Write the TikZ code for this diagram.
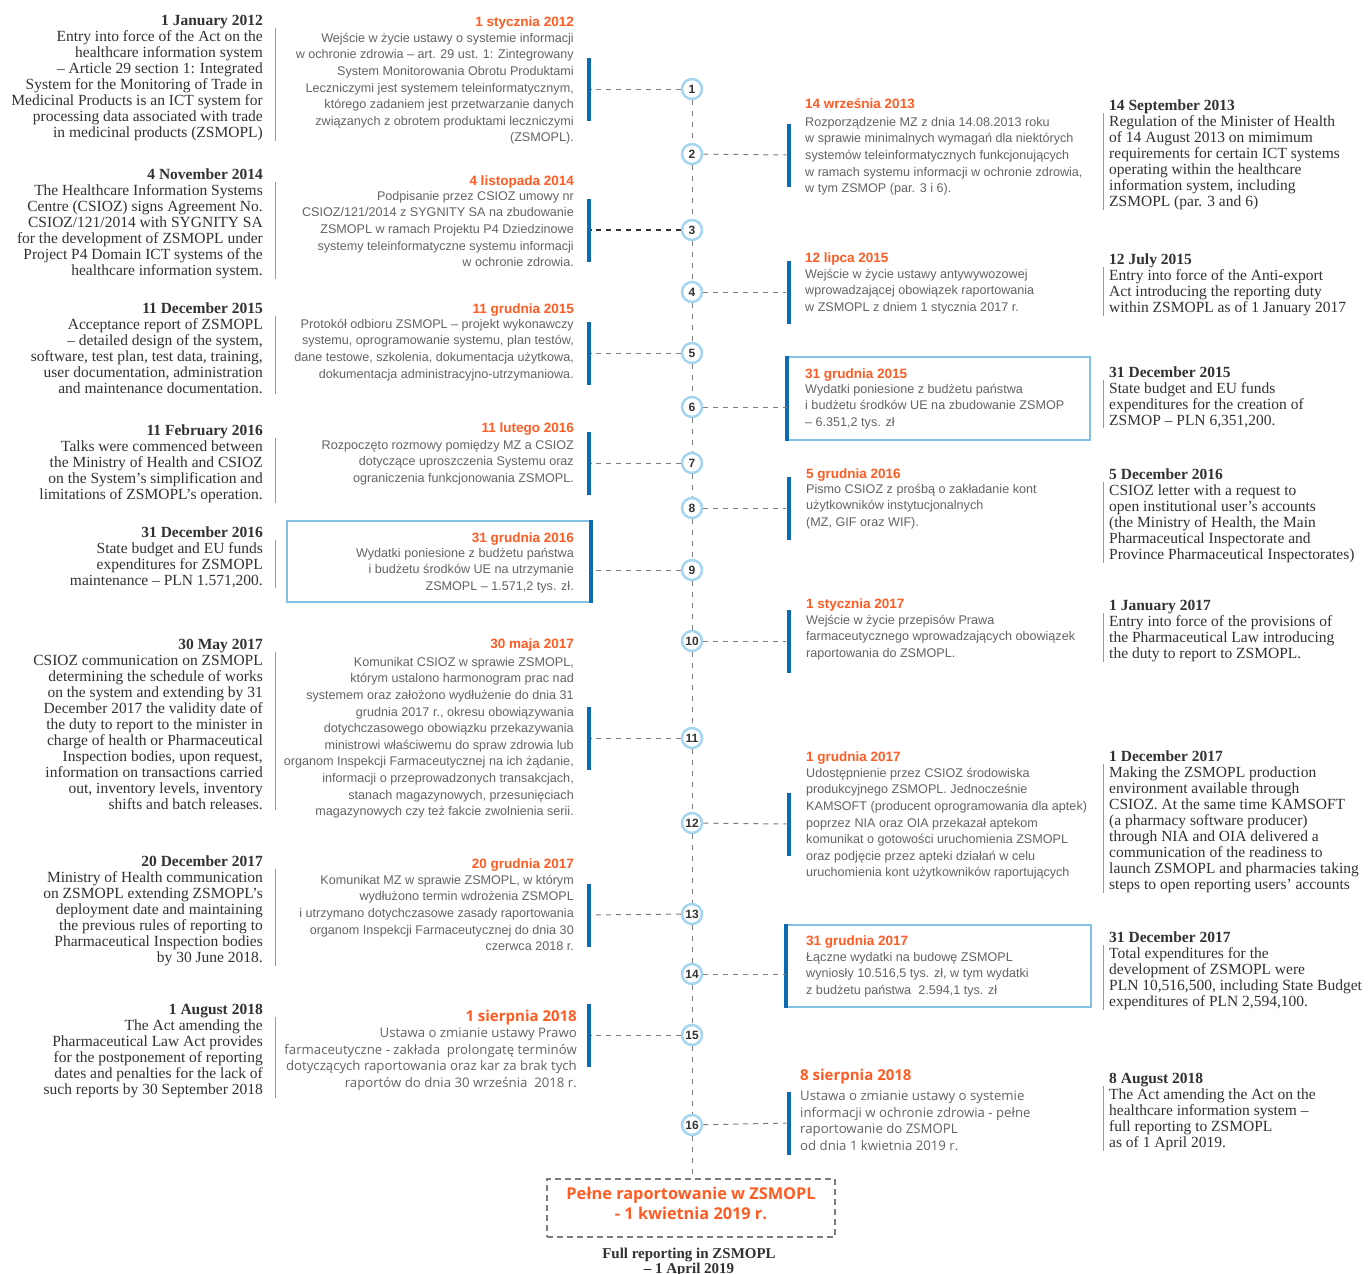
\documentclass[tikz,border=0pt]{standalone}
\usepackage{fontspec}
\setmainfont{Liberation Serif}
\newfontfamily\plsans{Liberation Sans}
\newfontfamily\opsans{Open Sans}
\usetikzlibrary{calc}
\definecolor{dateorange}{RGB}{255,92,36}
\definecolor{barblue}{RGB}{12,108,178}
\definecolor{boxblue}{RGB}{130,192,228}
\definecolor{circblue}{RGB}{165,213,240}
\definecolor{plgray}{RGB}{100,100,100}
\definecolor{engray}{RGB}{50,50,50}
\definecolor{dashgray}{RGB}{125,125,125}
\newcommand\plStrut{\rule{0pt}{12pt}}
\newcommand\enStrut{\rule{0pt}{13pt}}
\tikzset{
  tl/.style={circle, draw=circblue, line width=2.5pt, fill=white, minimum size=20pt, inner sep=0pt,
    font=\plsans\bfseries\fontsize{12}{12}\selectfont, text=black!80},
  blbar/.style={fill=barblue, inner sep=0pt, minimum width=4pt, minimum height=63pt},
  conn/.style={draw=dashgray, dash pattern=on 5pt off 5pt, line width=1pt},
  spine/.style={draw=dashgray, dash pattern=on 5pt off 6pt, line width=0.9pt},
  pldate/.style={font=\plsans\bfseries\fontsize{13.5}{16}\selectfont, text=dateorange, inner sep=0pt},
  plbody/.style={font=\plsans\fontsize{12.6}{16.6}\selectfont, text=plgray, inner sep=0pt},
  plR/.style={plbody, align=right, anchor=north east},
  plL/.style={plbody, align=left, anchor=north west},
  opdate/.style={font=\opsans\bfseries\fontsize{15}{16}\selectfont, text=dateorange, inner sep=0pt},
  opbody/.style={font=\opsans\fontsize{13.2}{16.8}\selectfont, text=plgray, inner sep=0pt},
  entxt/.style={font=\fontsize{15.5}{16}\selectfont, text=engray, inner sep=0pt},
  enL/.style={entxt, align=right, anchor=north east},
  enR/.style={entxt, align=left, anchor=north west},
  engbar/.style={draw=black!40, line width=1pt},
  infobox/.style={draw=boxblue, line width=1.3pt, fill=white, inner sep=0pt},
  finbox/.style={draw=dashgray, dash pattern=on 6pt off 4pt, line width=1.2pt, inner sep=0pt, minimum width=288pt, minimum height=58pt}
}
\begin{document}
\begin{tikzpicture}[x=1pt,y=-1pt]
\path[use as bounding box, fill=white] (0,0) rectangle (1368,1274);

% boxes (drawn first)
\node[infobox, minimum width=302pt, minimum height=83pt] (bx6) at (939,398.5) {};
\draw[barblue, line width=4pt] (bx6.north west) -- (bx6.south west);
\node[infobox, minimum width=303pt, minimum height=81pt] (bx9) at (438.5,561.5) {};
\draw[barblue, line width=4pt] (bx9.north east) -- (bx9.south east);
\node[infobox, minimum width=304pt, minimum height=82pt] (bx14) at (939,966) {};
\draw[barblue, line width=4pt] (bx14.north west) -- (bx14.south west);

% timeline circles
\foreach \n/\y in {1/89,2/154,3/230,4/292,5/353,6/407,7/463,8/508,9/570,10/641,11/738,12/823,13/914,14/974,15/1035,16/1125}
  \node[tl] (c\n) at (692,\y) {\n};

% final box
\node[finbox] (fin) at (691,1208) {};
\node[font=\opsans\bfseries\fontsize{16.3}{20}\selectfont, text=dateorange, align=center, inner sep=0pt] (fintxt) at (691,1203) {Pełne raportowanie w ZSMOPL\\- 1 kwietnia 2019 r.};
\node[font=\bfseries\fontsize{15}{15}\selectfont, text=engray, align=center, inner sep=0pt, anchor=north] (fineng) at (689,1245) {\enStrut Full reporting in ZSMOPL\\– 1 April 2019};

% spine
\foreach \a/\b in {1/2,2/3,3/4,4/5,5/6,6/7,7/8,8/9,9/10,10/11,11/12,12/13,13/14,14/15,15/16}
  \draw[spine] (c\a) -- (c\b);
\draw[spine] (c16) -- (c16 |- fin.north);

% bars
\foreach \n/\y in {1/89,3/230,5/353,7/463,11/738,13/915,15/1035}
  \node[blbar] (b\n) at (588.5,\y) {};
\foreach \n/\y in {2/155,4/292,8/508,10/641,12/824,16/1123}
  \node[blbar] (b\n) at (788.5,\y) {};

% connectors
\foreach \n in {1,5,7,11,13,15,2,4,8,10,12,16}
  \draw[conn] (c\n) -- (b\n);
\draw[conn, draw=black!80, line width=1.3pt] (c3) -- (b3);
\draw[conn] (c6) -- (c6 -| bx6.west);
\draw[conn] (c9) -- (c9 -| bx9.east);
\draw[conn] (c14) -- (c14 -| bx14.west);

% ---------- Polish texts, left side ----------
\node[pldate, anchor=base east] (t1) at (574,27) {1 stycznia 2012};
\node[plR] (p1) at (574,30) {\plStrut Wejście w życie ustawy o systemie informacji\\w ochronie zdrowia – art. 29 ust. 1: Zintegrowany\\System Monitorowania Obrotu Produktami\\Leczniczymi jest systemem teleinformatycznym,\\którego zadaniem jest przetwarzanie danych\\związanych z obrotem produktami leczniczymi\\(ZSMOPL).};

\node[pldate, anchor=base east] (t3) at (574,185) {4 listopada 2014};
\node[plR] (p3) at (574,188) {\plStrut Podpisanie przez CSIOZ umowy nr\\CSIOZ/121/2014 z SYGNITY SA na zbudowanie\\ZSMOPL w ramach Projektu P4 Dziedzinowe\\systemy teleinformatyczne systemu informacji\\w ochronie zdrowia.};

\node[pldate, anchor=base east] (t5) at (574,313) {11 grudnia 2015};
\node[plR] (p5) at (574,316) {\plStrut Protokół odbioru ZSMOPL – projekt wykonawczy\\systemu, oprogramowanie systemu, plan testów,\\dane testowe, szkolenia, dokumentacja użytkowa,\\dokumentacja administracyjno-utrzymaniowa.};

\node[pldate, anchor=base east] (t7) at (574,432) {11 lutego 2016};
\node[plR] (p7) at (574,437) {\plStrut Rozpoczęto rozmowy pomiędzy MZ a CSIOZ\\dotyczące uproszczenia Systemu oraz\\ograniczenia funkcjonowania ZSMOPL.};

\node[pldate, anchor=base east] (t9) at (574,542) {31 grudnia 2016};
\node[plR] (p9) at (574,545) {\plStrut Wydatki poniesione z budżetu państwa\\i budżetu środków UE na utrzymanie\\ZSMOPL – 1.571,2 tys. zł.};

\node[pldate, anchor=base east] (t11) at (574,648) {30 maja 2017};
\node[plR] (p11) at (574,654) {\plStrut Komunikat CSIOZ w sprawie ZSMOPL,\\którym ustalono harmonogram prac nad\\systemem oraz założono wydłużenie do dnia 31\\grudnia 2017 r., okresu obowiązywania\\dotychczasowego obowiązku przekazywania\\ministrowi właściwemu do spraw zdrowia lub\\organom Inspekcji Farmaceutycznej na ich żądanie,\\informacji o przeprowadzonych transakcjach,\\stanach magazynowych, przesunięciach\\magazynowych czy też fakcie zwolnienia serii.};

\node[pldate, anchor=base east] (t13) at (574,868) {20 grudnia 2017};
\node[plR] (p13) at (574,872) {\plStrut Komunikat MZ w sprawie ZSMOPL, w którym\\wydłużono termin wdrożenia ZSMOPL\\i utrzymano dotychczasowe zasady raportowania\\organom Inspekcji Farmaceutycznej do dnia 30\\czerwca 2018 r.};

\node[opdate, anchor=base east] (t15) at (577,1021) {1 sierpnia 2018};
\node[opbody, align=right, anchor=north east] (p15) at (577,1025) {\plStrut Ustawa o zmianie ustawy Prawo\\farmaceutyczne - zakłada \ prolongatę terminów\\dotyczących raportowania oraz kar za brak tych\\raportów do dnia 30 września \ 2018 r.};

% ---------- Polish texts, right side ----------
\node[pldate, anchor=base west] (t2) at (805,108) {14 września 2013};
\node[plL] (p2) at (805,114) {\plStrut Rozporządzenie MZ z dnia 14.08.2013 roku\\w sprawie minimalnych wymagań dla niektórych\\systemów teleinformatycznych funkcjonujących\\w ramach systemu informacji w ochronie zdrowia,\\w tym ZSMOP (par. 3 i 6).};

\node[pldate, anchor=base west] (t4) at (805,262) {12 lipca 2015};
\node[plL] (p4) at (805,266) {\plStrut Wejście w życie ustawy antywywozowej\\wprowadzającej obowiązek raportowania\\w ZSMOPL z dniem 1 stycznia 2017 r.};

\node[pldate, anchor=base west] (t6) at (805,378) {31 grudnia 2015};
\node[plL] (p6) at (805,381) {\plStrut Wydatki poniesione z budżetu państwa\\i budżetu środków UE na zbudowanie ZSMOP\\– 6.351,2 tys. zł};

\node[pldate, anchor=base west] (t8) at (806,478) {5 grudnia 2016};
\node[plL] (p8) at (806,481) {\plStrut Pismo CSIOZ z prośbą o zakładanie kont\\użytkowników instytucjonalnych\\(MZ, GIF oraz WIF).};

\node[pldate, anchor=base west] (t10) at (806,608) {1 stycznia 2017};
\node[plL] (p10) at (806,612) {\plStrut Wejście w życie przepisów Prawa\\farmaceutycznego wprowadzających obowiązek\\raportowania do ZSMOPL.};

\node[pldate, anchor=base west] (t12) at (806,761) {1 grudnia 2017};
\node[plL] (p12) at (806,765) {\plStrut Udostępnienie przez CSIOZ środowiska\\produkcyjnego ZSMOPL. Jednocześnie\\KAMSOFT (producent oprogramowania dla aptek)\\poprzez NIA oraz OIA przekazał aptekom\\komunikat o gotowości uruchomienia ZSMOPL\\oraz podjęcie przez apteki działań w celu\\uruchomienia kont użytkowników raportujących};

\node[pldate, anchor=base west] (t14) at (806,945) {31 grudnia 2017};
\node[plL] (p14) at (806,949) {\plStrut Łączne wydatki na budowę ZSMOPL\\wyniosły 10.516,5 tys. zł, w tym wydatki\\z budżetu państwa \ 2.594,1 tys. zł};

\node[opdate, anchor=base west] (t16) at (800,1080) {8 sierpnia 2018};
\node[opbody, align=left, anchor=north west] (p16) at (800,1088) {\plStrut Ustawa o zmianie ustawy o systemie\\informacji w ochronie zdrowia - pełne\\raportowanie do ZSMOPL\\od dnia 1 kwietnia 2019 r.};

% ---------- English texts, left ----------
\node[enL] (e1) at (263,12) {\enStrut\textbf{1 January 2012}\\Entry into force of the Act on the\\healthcare information system\\– Article 29 section 1: Integrated\\System for the Monitoring of Trade in\\Medicinal Products is an ICT system for\\processing data associated with trade\\in medicinal products (ZSMOPL)};
\node[enL] (e3) at (263,166) {\enStrut\textbf{4 November 2014}\\The Healthcare Information Systems\\Centre (CSIOZ) signs Agreement No.\\CSIOZ/121/2014 with SYGNITY SA\\for the development of ZSMOPL under\\Project P4 Domain ICT systems of the\\healthcare information system.};
\node[enL] (e5) at (263,300) {\enStrut\textbf{11 December 2015}\\Acceptance report of ZSMOPL\\– detailed design of the system,\\software, test plan, test data, training,\\user documentation, administration\\and maintenance documentation.};
\node[enL] (e7) at (263,422) {\enStrut\textbf{11 February 2016}\\Talks were commenced between\\the Ministry of Health and CSIOZ\\on the System’s simplification and\\limitations of ZSMOPL’s operation.};
\node[enL] (e9) at (263,524) {\enStrut\textbf{31 December 2016}\\State budget and EU funds\\expenditures for ZSMOPL\\maintenance – PLN 1.571,200.};
\node[enL] (e11) at (263,636) {\enStrut\textbf{30 May 2017}\\CSIOZ communication on ZSMOPL\\determining the schedule of works\\on the system and extending by 31\\December 2017 the validity date of\\the duty to report to the minister in\\charge of health or Pharmaceutical\\Inspection bodies, upon request,\\information on transactions carried\\out, inventory levels, inventory\\shifts and batch releases.};
\node[enL] (e13) at (263,853) {\enStrut\textbf{20 December 2017}\\Ministry of Health communication\\on ZSMOPL extending ZSMOPL’s\\deployment date and maintaining\\the previous rules of reporting to\\Pharmaceutical Inspection bodies\\by 30 June 2018.};
\node[enL] (e15) at (263,1001) {\enStrut\textbf{1 August 2018}\\The Act amending the\\Pharmaceutical Law Act provides\\for the postponement of reporting\\dates and penalties for the lack of\\such reports by 30 September 2018};

% ---------- English texts, right ----------
\node[enR] (e2) at (1109,97) {\enStrut\textbf{14 September 2013}\\Regulation of the Minister of Health\\of 14 August 2013 on mimimum\\requirements for certain ICT systems\\operating within the healthcare\\information system, including\\ZSMOPL (par. 3 and 6)};
\node[enR] (e4) at (1109,251) {\enStrut\textbf{12 July 2015}\\Entry into force of the Anti-export\\Act introducing the reporting duty\\within ZSMOPL as of 1 January 2017};
\node[enR] (e6) at (1109,364) {\enStrut\textbf{31 December 2015}\\State budget and EU funds\\expenditures for the creation of\\ZSMOP – PLN 6,351,200.};
\node[enR] (e8) at (1109,466) {\enStrut\textbf{5 December 2016}\\CSIOZ letter with a request to\\open institutional user’s accounts\\(the Ministry of Health, the Main\\Pharmaceutical Inspectorate and\\Province Pharmaceutical Inspectorates)};
\node[enR] (e10) at (1109,597) {\enStrut\textbf{1 January 2017}\\Entry into force of the provisions of\\the Pharmaceutical Law introducing\\the duty to report to ZSMOPL.};
\node[enR] (e12) at (1109,748) {\enStrut\textbf{1 December 2017}\\Making the ZSMOPL production\\environment available through\\CSIOZ. At the same time KAMSOFT\\(a pharmacy software producer)\\through NIA and OIA delivered a\\communication of the readiness to\\launch ZSMOPL and pharmacies taking\\steps to open reporting users’ accounts};
\node[enR] (e14) at (1109,929) {\enStrut\textbf{31 December 2017}\\Total expenditures for the\\development of ZSMOPL were\\PLN 10,516,500, including State Budget\\expenditures of PLN 2,594,100.};
\node[enR] (e16) at (1109,1070) {\enStrut\textbf{8 August 2018}\\The Act amending the Act on the\\healthcare information system –\\full reporting to ZSMOPL\\as of 1 April 2019.};

% English side rules
\foreach \e in {e1,e3,e5,e7,e9,e11,e13,e15}
  \draw[engbar] ([shift={(12,16)}]\e.north east) -- ([shift={(12,0)}]\e.south east);
\foreach \e in {e2,e4,e6,e8,e10,e12,e14,e16}
  \draw[engbar] ([shift={(-6,16)}]\e.north west) -- ([shift={(-6,0)}]\e.south west);
\end{tikzpicture}
\end{document}
